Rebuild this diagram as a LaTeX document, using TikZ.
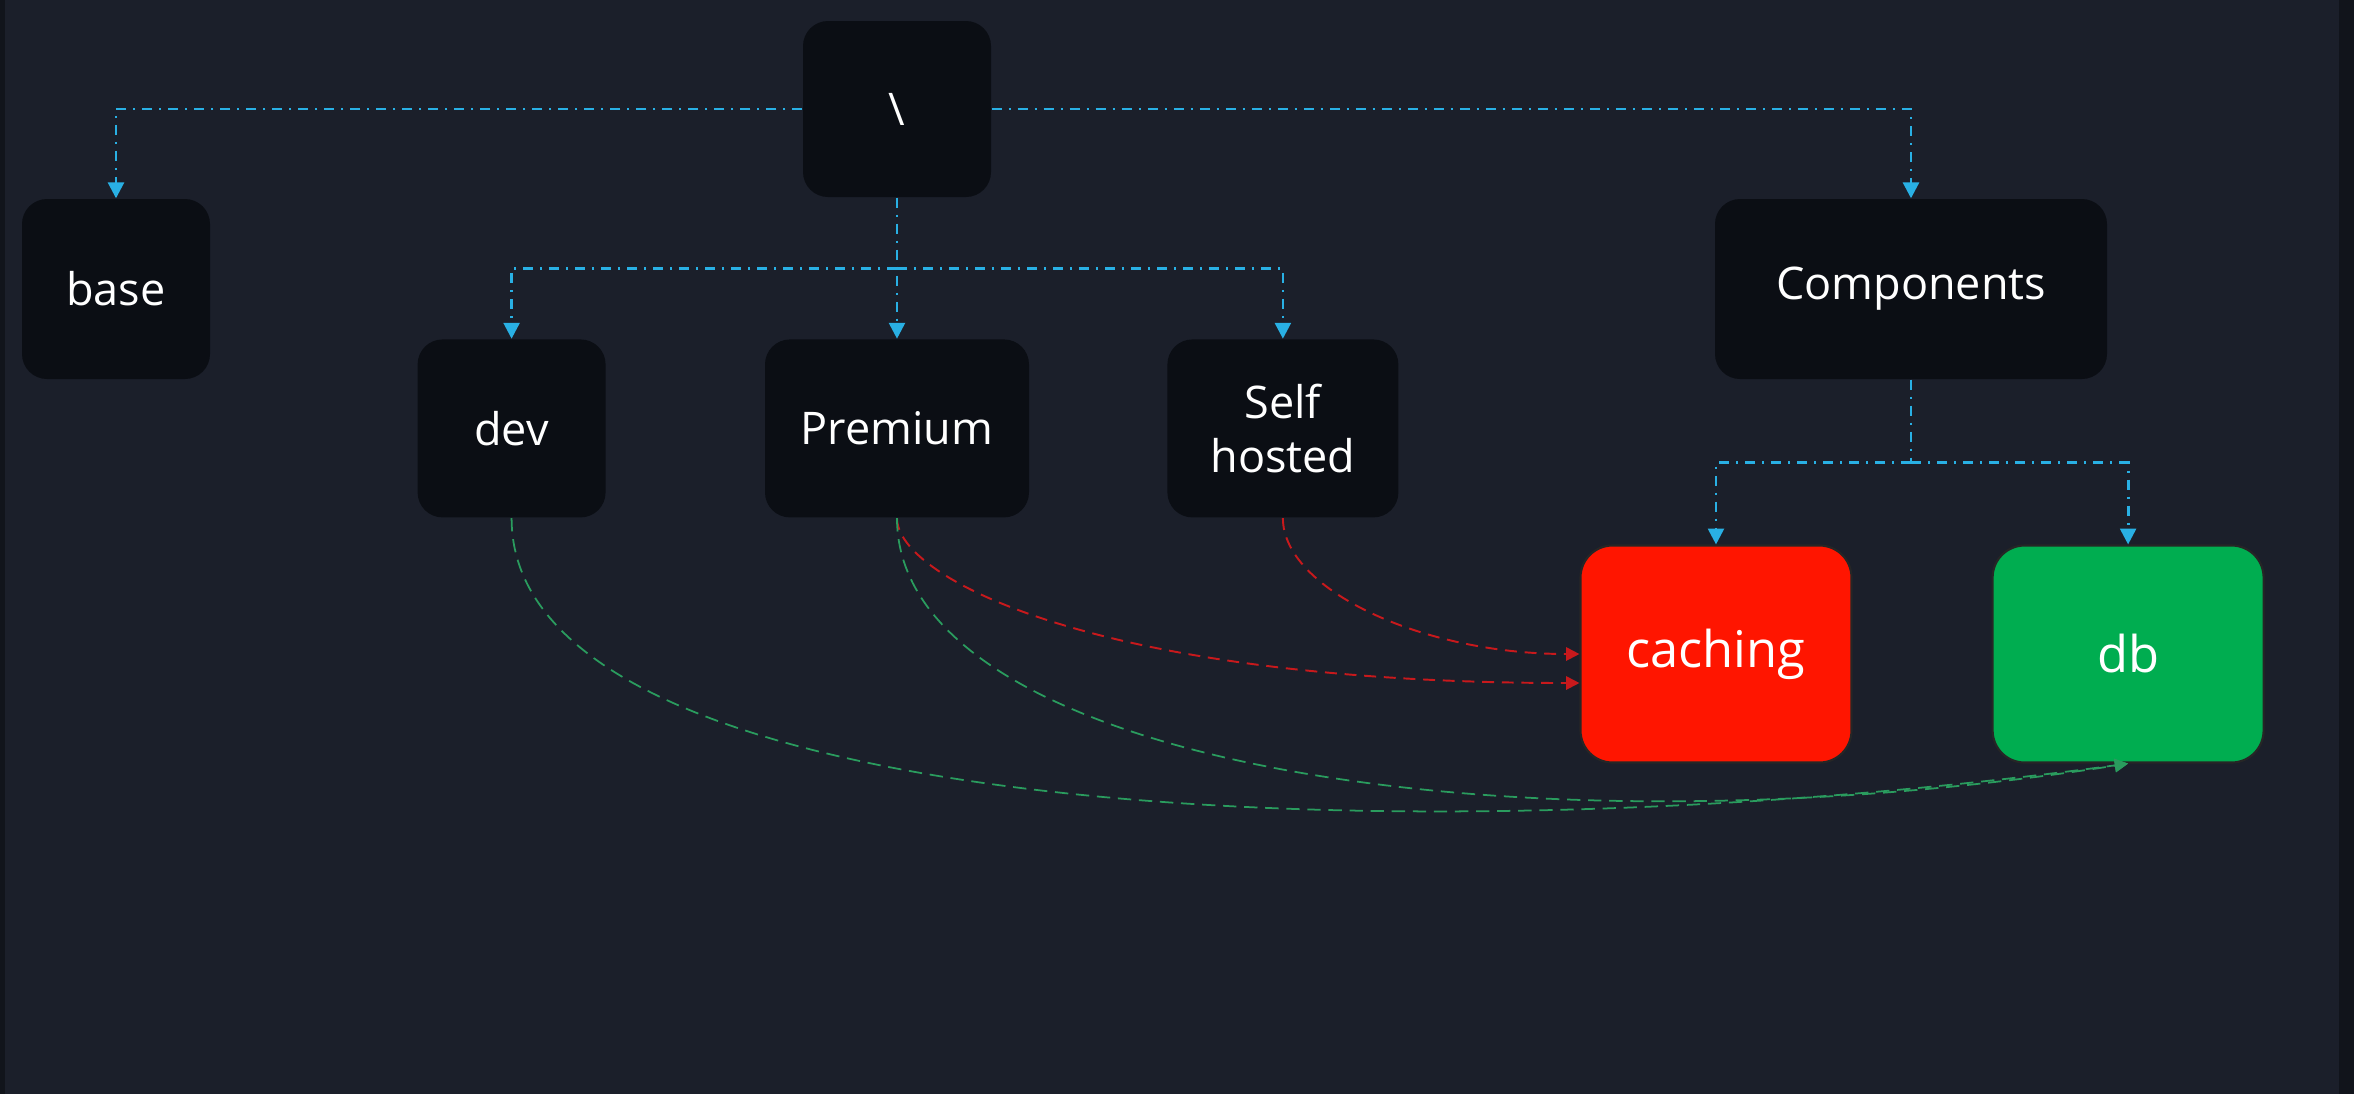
\documentclass[tikz,border=0pt]{standalone}
\usepackage{fontspec}
\setmainfont{Open Sans}
\usepackage{xcolor}
\usepackage{tikz}
\usetikzlibrary{positioning, arrows.meta}

\definecolor{bgdark}{HTML}{1B1F2A}
\definecolor{edgedark}{HTML}{11141B}
\definecolor{boxdark}{HTML}{0B0E14}
\definecolor{treeblue}{HTML}{29B0E4}
\definecolor{cachred}{HTML}{FF1500}
\definecolor{dbgreen}{HTML}{00AD50}
\definecolor{linkred}{HTML}{C8191C}
\definecolor{linkgreen}{HTML}{2A9C5E}

\tikzset{
    box/.style={rectangle, rounded corners=0.25cm, fill=boxdark, text=white, align=center,
        minimum width=1.88cm, minimum height=1.78cm, font=\fontsize{12.8}{15.4}\selectfont},
    leaf/.style={rectangle, rounded corners=0.32cm, draw=black!85, line width=0.6pt, text=white,
        minimum width=2.71cm, minimum height=2.17cm, font=\fontsize{14.4}{17}\selectfont},
    tree/.style={treeblue, line width=0.8pt, dash pattern=on 2.8pt off 2pt on 0.6pt off 2pt,
        -{Triangle[length=4.5pt, width=4.5pt]}},
    redlink/.style={linkred, line width=0.55pt, dash pattern=on 3.4pt off 2.2pt,
        -{Triangle[length=3.8pt, width=3.8pt]}},
    greenlink/.style={linkgreen, line width=0.5pt, dash pattern=on 3.8pt off 2.2pt,
        -{Triangle[length=3.8pt, width=3.8pt]}}
}

\begin{document}
\begin{tikzpicture}
        % background
        \useasboundingbox (0,0) rectangle (23.54,-10.93);
        \fill[bgdark] (-0.1,0.1) rectangle (23.64,-11.03);
        \fill[edgedark] (-0.1,0.1) rectangle (0.05,-11.03);
        \fill[edgedark] (23.39,0.1) rectangle (23.64,-11.03);

        \node[box, minimum height=1.76cm] (root) at (8.97,-1.09) {\textbackslash};
        \node[box, minimum height=1.8cm] (base) at (1.16,-2.89) {base};
        \node[box, minimum width=2.64cm, below = 1.41cm of root] (prem) {Premium};
        \node[box, left = 1.58cm of prem] (dev) {dev};
        \node[box, minimum width=2.31cm, right = 1.37cm of prem] (self) {Self\\hosted};
        \node[box, minimum width=3.92cm, minimum height=1.8cm] (comp) at (19.11,-2.89) {Components};
        \node[leaf, fill=cachred] (cach) at (17.16,-6.54) {caching};
        \node[leaf, fill=dbgreen, right = 1.39cm of cach] (db) {db};

        \coordinate[below = 0.71cm of root] (fork);
        \coordinate[below = 0.83cm of comp] (cfork);

        \draw[tree] (root.west) -| (base.north);
        \draw[tree] (root.east) -| (comp.north);
        \draw[tree] (root.south) -- (prem.north);
        \draw[tree] (fork) -| (dev.north);
        \draw[tree] (fork) -| (self.north);
        \draw[tree, -] (comp.south) -- (cfork);
        \draw[tree] (cfork) -| (cach.north);
        \draw[tree] (cfork) -| (db.north);

        \draw[redlink] (self.south) .. controls +(0,-0.7) and +(-1.6,0) .. (cach.west);
        \draw[redlink] (prem.south) .. controls +(0,-0.6) and +(-4.8,0) .. ([yshift=-0.29cm]cach.west);
        \draw[greenlink] (dev.south) .. controls +(0,-3.04) and +(-7.17,-0.97) .. (db.south);
        \draw[greenlink] (prem.south) .. controls +(0,-2.44) and +(-6.17,-0.97) .. (db.south);
    \end{tikzpicture}
\end{document}
